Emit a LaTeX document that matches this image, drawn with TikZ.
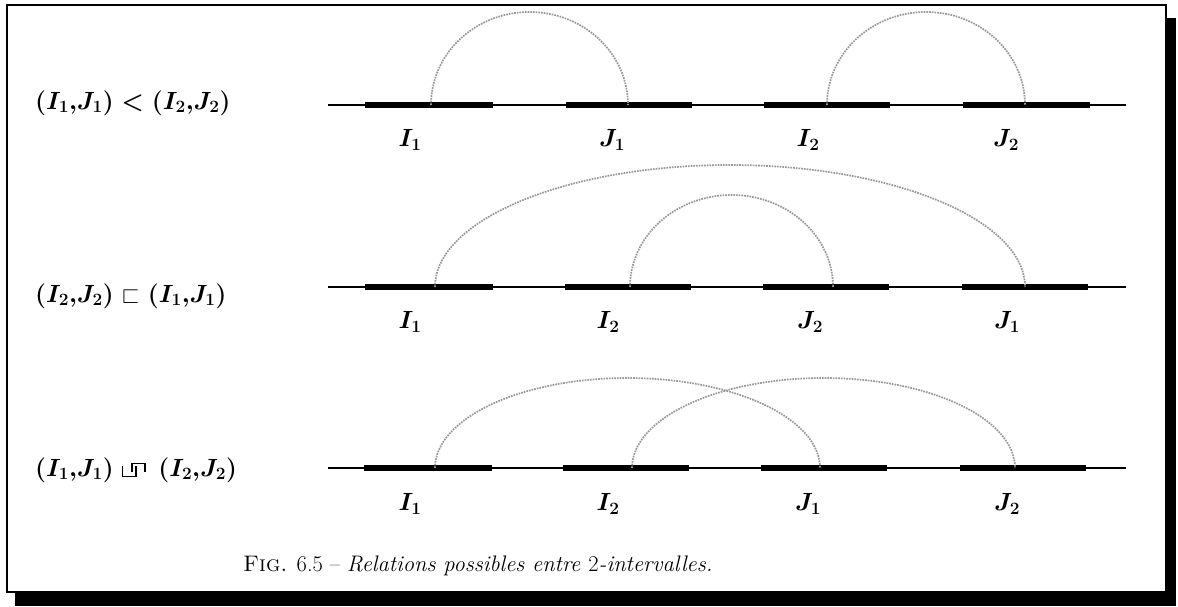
\documentclass[tikz,border=0pt]{standalone}
\usepackage{amssymb}
\newcommand\crossrel{\mathrel{\tikz[baseline=0pt,x=1em,y=1em]{%
  \draw[line width=0.06em] (0,0.45)--(0,0)--(0.58,0)--(0.58,0.45);
  \draw[line width=0.06em] (0.4,0.2)--(0.4,0.55)--(0.96,0.55)--(0.96,0.2);}}}
\begin{document}
\begin{tikzpicture}[x=1pt,y=1pt,
  lab/.style={inner sep=0pt, font=\fontsize{24}{28}\selectfont\boldmath},
  rel/.style={inner sep=0pt, font=\fontsize{23.5}{28}\selectfont\boldmath},
  capt/.style={inner sep=0pt, font=\fontsize{22.5}{27}\selectfont},
  axis/.style={line width=1.3pt},
  bar/.style={line width=6pt},
  link/.style={line width=1.7pt, densely dotted, black!40},
  frame/.style={line width=2.5pt}]
\useasboundingbox (0,0) rectangle (1178,606);
% shadow and frame
\fill[black] (15,0) rectangle (1176,588);
\draw[frame, fill=white] (7,14) rectangle (1166,601);

% ---------- row 1 ----------
\node[rel, anchor=west] (L1) at (35,503) {$(I_1{,}J_1)<(I_2{,}J_2)$};
\coordinate (a1s) at (328,501); \coordinate (a1e) at (1126,501);
\draw[axis] (a1s) -- (a1e);
\draw[bar] (365,501) -- (493,501);
\draw[bar] (566,501) -- (692,501);
\draw[bar] (764,501) -- (890,501);
\draw[bar] (963,501) -- (1090,501);
\coordinate (r1i1) at (431,501); \coordinate (r1j1) at (628,501);
\coordinate (r1i2) at (827,501); \coordinate (r1j2) at (1025,501);
\draw[link] (r1i1) arc[start angle=180,end angle=0,x radius=98.5,y radius=93];
\draw[link] (r1i2) arc[start angle=180,end angle=0,x radius=99,y radius=93];
\node[lab] (n1a) at (410,466) {$I_1$};
\node[lab] (n1b) at (612,466) {$J_1$};
\node[lab] (n1c) at (808,466) {$I_2$};
\node[lab] (n1d) at (1006,466) {$J_2$};

% ---------- row 2 ----------
\node[rel, anchor=west] (L2) at (35,310) {$(I_2{,}J_2)\sqsubset(I_1{,}J_1)$};
\coordinate (a2s) at (328,319); \coordinate (a2e) at (1126,319);
\draw[axis] (a2s) -- (a2e);
\draw[bar] (365,319) -- (493,319);
\draw[bar] (565,319) -- (691,319);
\draw[bar] (763,319) -- (889,319);
\draw[bar] (962,319) -- (1088,319);
\coordinate (r2i1) at (435,319); \coordinate (r2j1) at (1025,319);
\coordinate (r2i2) at (630,319); \coordinate (r2j2) at (833,319);
\draw[link] (r2i1) arc[start angle=180,end angle=0,x radius=295,y radius=122];
\draw[link] (r2i2) arc[start angle=180,end angle=0,x radius=101.5,y radius=92];
\node[lab] (n2a) at (410,284) {$I_1$};
\node[lab] (n2b) at (608,284) {$I_2$};
\node[lab] (n2c) at (810,284) {$J_2$};
\node[lab] (n2d) at (1007,284) {$J_1$};

% ---------- row 3 ----------
\node[rel, anchor=west] (L3) at (35,136) {$(I_1{,}J_1)\crossrel\,(I_2{,}J_2)$};
\coordinate (a3s) at (328,138); \coordinate (a3e) at (1126,138);
\draw[axis] (a3s) -- (a3e);
\draw[bar] (364,138) -- (492,138);
\draw[bar] (563,138) -- (689,138);
\draw[bar] (761,138) -- (887,138);
\draw[bar] (960,138) -- (1086,138);
\coordinate (r3i1) at (435,138); \coordinate (r3j1) at (820,138);
\coordinate (r3i2) at (632,138); \coordinate (r3j2) at (1015,138);
\draw[link] (r3i1) arc[start angle=180,end angle=0,x radius=192.5,y radius=90];
\draw[link] (r3i2) arc[start angle=180,end angle=0,x radius=191.5,y radius=90];
\node[lab] (n3a) at (410,102) {$I_1$};
\node[lab] (n3b) at (608,102) {$I_2$};
\node[lab] (n3c) at (808,102) {$J_1$};
\node[lab] (n3d) at (1007,102) {$J_2$};

% ---------- caption ----------
\node[capt, anchor=west] (cap) at (243,40) {\textsc{Fig.} 6.5 -- \textit{Relations possibles entre \textup{2}-intervalles.}};
\end{tikzpicture}
\end{document}
